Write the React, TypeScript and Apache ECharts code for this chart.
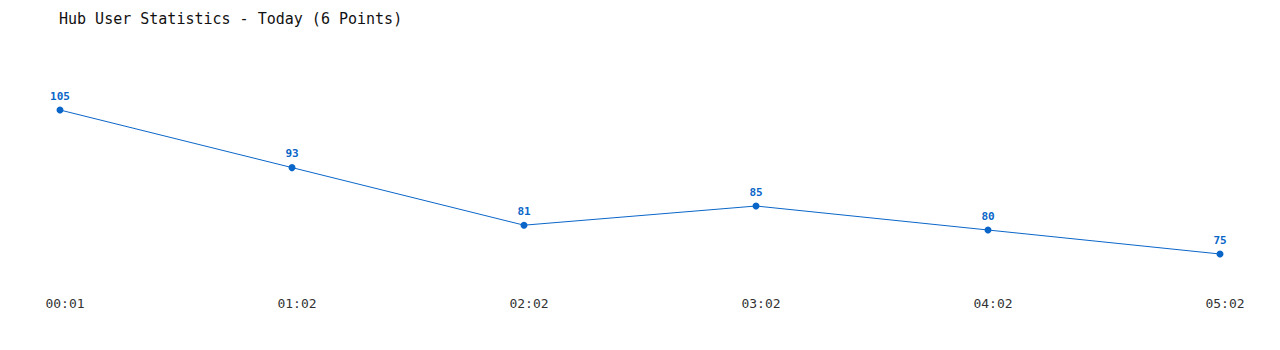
import React, { useEffect, useRef } from "react";
import * as echarts from "echarts";

const categories = ["00:01", "01:02", "02:02", "03:02", "04:02", "05:02"];
const users = [105, 93, 81, 85, 80, 75];
const titleText = "Hub User Statistics - Today (6 Points)";

const MONO = "'DejaVu Sans Mono', 'Liberation Mono', monospace";

export default function App() {
  const ref = useRef<HTMLDivElement>(null);
  useEffect(() => {
    if (!ref.current) return;
    const chart = echarts.init(ref.current, undefined, { renderer: "svg" });
    chart.setOption({
      animation: false,
      backgroundColor: "#ffffff",
      title: {
        text: titleText,
        left: 54,
        top: 6,
        textStyle: { fontFamily: MONO, fontSize: 15, fontWeight: "normal", color: "#111111" },
      },
      grid: { left: 60, right: 60, top: 62, bottom: 72 },
      xAxis: {
        type: "category",
        data: categories,
        boundaryGap: false,
        axisLine: { show: false },
        axisTick: { show: false },
        splitLine: { show: false },
        axisLabel: {
          fontFamily: MONO,
          fontSize: 13,
          color: "#333333",
          margin: 19,
          padding: [0, 0, 0, 10],
        },
      },
      yAxis: {
        type: "value",
        min: 70,
        max: 115,
        show: false,
        splitLine: { show: false },
      },
      series: [
        {
          type: "line",
          data: users,
          color: "#0a66c8",
          lineStyle: { width: 1, color: "#0a66c8" },
          symbol: "circle",
          symbolSize: 7,
          itemStyle: { color: "#0a66c8" },
          label: {
            show: true,
            position: "top",
            distance: 5,
            fontFamily: MONO,
            fontSize: 11,
            fontWeight: "bold",
            color: "#0a66c8",
          },
        },
      ],
    });
    return () => chart.dispose();
  }, []);
  return (
    <div
      ref={ref}
      style={{ position: "absolute", left: 0, top: 0, width: 1280, height: 350 }}
    />
  );
}
